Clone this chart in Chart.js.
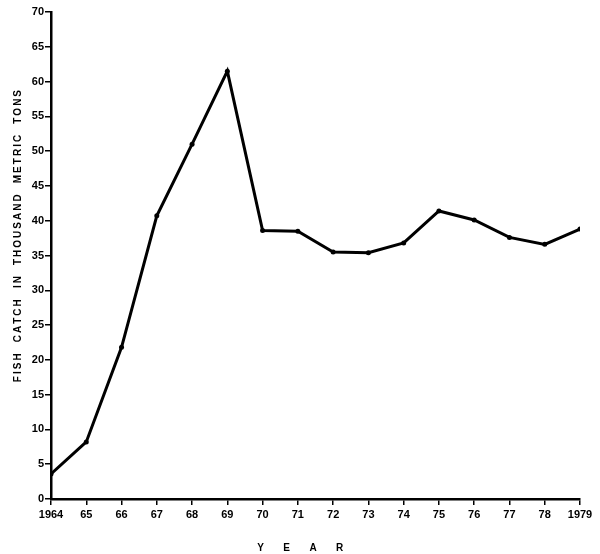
<!DOCTYPE html>
<html>
<head>
<meta charset="utf-8">
<script src="https://cdn.jsdelivr.net/npm/chart.js@4"></script>
<style>
  html, body { margin: 0; padding: 0; background: #fff; }
  #wrap { position: relative; width: 600px; height: 554px; }
</style>
</head>
<body>
<div id="wrap"><canvas id="fishChart"></canvas></div>
<script>
const years = [1964, 1965, 1966, 1967, 1968, 1969, 1970, 1971, 1972, 1973, 1974, 1975, 1976, 1977, 1978, 1979];
const catchValues = [3.6, 8.2, 21.8, 40.7, 51.0, 61.5, 38.6, 38.5, 35.5, 35.4, 36.8, 41.4, 40.1, 37.6, 36.6, 38.8];
const yTicks = [0, 5, 10, 15, 20, 25, 30, 35, 40, 45, 50, 55, 60, 65, 70];

const tickFont = { family: "'Liberation Sans', Arial, sans-serif", size: 11, weight: "bold" };
const titleFont = { family: "'Liberation Sans', Arial, sans-serif", size: 10, weight: "bold" };

// spaced-out capitals like the original lettering
const spaced = (s) => s.split(" ").map((w) => w.split("").join("\u2009")).join("    ");

// padding spaces nudge the centred axis titles to where the original has them
const xTitle = "Y       E       A       R" + " ".repeat(11);
const yTitle = " ".repeat(14) + spaced("FISH CATCH IN THOUSAND METRIC TONS");

const ctx = document.getElementById("fishChart");

new Chart(ctx, {
  type: "line",
  data: {
    datasets: [
      {
        data: years.map((y, i) => ({ x: y, y: catchValues[i] })),
        borderColor: "#000",
        borderWidth: 3,
        pointRadius: 2.5,
        pointBackgroundColor: "#000",
        pointBorderWidth: 0,
        tension: 0,
        fill: false,
      },
    ],
  },
  options: {
    responsive: true,
    maintainAspectRatio: false,
    animation: false,
    layout: { padding: { left: 12, right: 20, top: 12, bottom: 0 } },
    plugins: { legend: { display: false }, tooltip: { enabled: false } },
    scales: {
      x: {
        type: "linear",
        min: 1964,
        max: 1979,
        afterBuildTicks: (scale) => {
          scale.ticks = years.map((v) => ({ value: v }));
        },
        afterFit: (scale) => { scale.height = 55; },
        grid: { drawOnChartArea: false, drawTicks: true, tickLength: 6, color: "#000", lineWidth: 1.5 },
        border: { color: "#000", width: 2.5 },
        ticks: {
          color: "#000",
          font: tickFont,
          padding: 3,
          maxRotation: 0,
          autoSkip: false,
          callback: (v) => (v === 1964 || v === 1979 ? String(v) : String(v).slice(2)),
        },
        title: {
          display: true,
          text: xTitle,
          color: "#000",
          font: titleFont,
          padding: { top: 5, bottom: 0 },
        },
      },
      y: {
        min: 0,
        max: 70,
        afterBuildTicks: (scale) => {
          scale.ticks = yTicks.map((v) => ({ value: v }));
        },
        afterFit: (scale) => { scale.width = 39; },
        grid: { drawOnChartArea: false, drawTicks: true, tickLength: 6, color: "#000", lineWidth: 1.5 },
        border: { color: "#000", width: 2.5 },
        ticks: { color: "#000", font: tickFont, padding: 1 },
        title: {
          display: true,
          text: yTitle,
          color: "#000",
          font: titleFont,
          padding: { top: 0, bottom: 4 },
        },
      },
    },
  },
});
</script>
</body>
</html>
